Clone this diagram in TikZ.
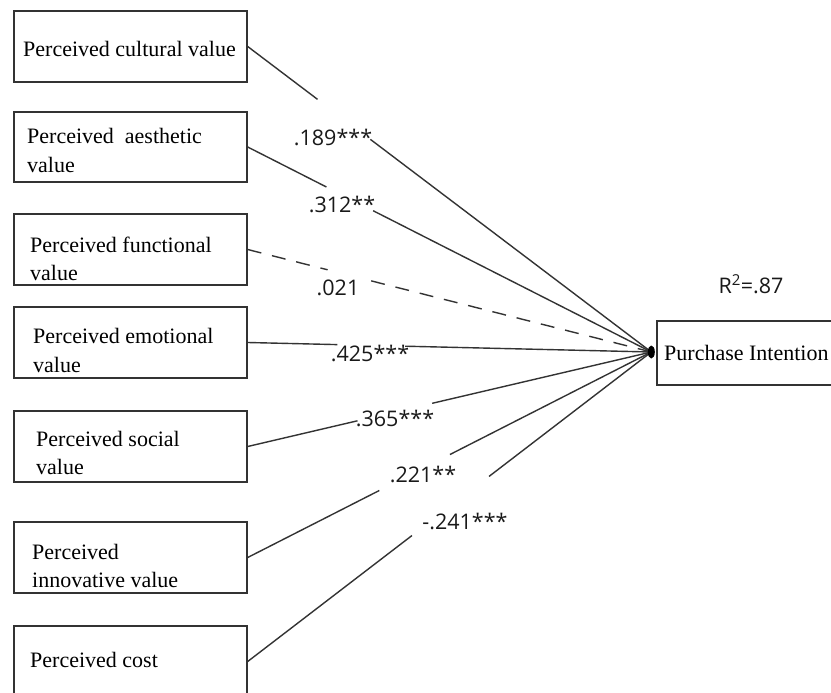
\documentclass[tikz,border=0pt]{standalone}
\usepackage{fontspec}
\setmainfont{Liberation Serif}
\newfontfamily\labfont{Open Sans}
\usetikzlibrary{calc,shapes.geometric}
\begin{document}
\begin{tikzpicture}[x=1pt,y=-1pt,
  box/.style={draw=black!80, line width=1.4pt, rectangle, inner sep=0pt},
  boxtext/.style={anchor=base west, inner sep=0pt, font=\fontsize{22}{26}\selectfont, text=black},
  conn/.style={draw=black!80, line width=1.4pt},
  dashconn/.style={conn, dash pattern=on 14pt off 11pt},
  coef/.style={inner sep=0pt, font=\labfont\fontsize{21.5}{25}\selectfont, text=black!90},
  hubdot/.style={fill=black, ellipse, minimum width=7pt, minimum height=13pt, inner sep=0pt}]
\useasboundingbox (0,0) rectangle (831,693);
\fill[white] (0,0) rectangle (831,693);

% boxes
\node[box, minimum width=233pt, minimum height=71pt] (b1) at (130.5,46.5) {};
\node[box, minimum width=233pt, minimum height=70pt] (b2) at (130.5,147) {};
\node[box, minimum width=233pt, minimum height=71pt] (b3) at (130.5,249.5) {};
\node[box, minimum width=233pt, minimum height=71pt] (b4) at (130.5,342.5) {};
\node[box, minimum width=233pt, minimum height=71pt] (b5) at (130.5,446.5) {};
\node[box, minimum width=233pt, minimum height=71pt] (b6) at (130.5,557.5) {};
\node[box, minimum width=233pt, minimum height=71pt] (b7) at (130.5,661.5) {};
\node[box, minimum width=188pt, minimum height=64pt] (pi) at (751,353) {};

% box texts
\node[boxtext] (t1) at (23,57) {Perceived cultural value};
\node[boxtext] (t2a) at (27,143) {Perceived\ \ aesthetic};
\node[boxtext] (t2b) at (27,172) {value};
\node[boxtext] (t3a) at (30,252) {Perceived functional};
\node[boxtext] (t3b) at (30,280) {value};
\node[boxtext] (t4a) at (33,343) {Perceived emotional};
\node[boxtext] (t4b) at (33,372) {value};
\node[boxtext] (t5a) at (36,446) {Perceived social};
\node[boxtext] (t5b) at (36,474) {value};
\node[boxtext] (t6a) at (32,559) {Perceived};
\node[boxtext] (t6b) at (32,587) {innovative value};
\node[boxtext] (t7) at (30,667) {Perceived cost};
\node[boxtext] (tpi) at (664,360) {Purchase Intention};

% hub
\coordinate (hub) at ($(pi.west)+(-5,-1)$);

% gap coordinates
\coordinate (g1a) at ($(b1.east)!0.173!(hub)$);
\coordinate (g1b) at ($(b1.east)!0.304!(hub)$);
\coordinate (g2a) at ($(b2.east)!0.195!(hub)$);
\coordinate (g2b) at ($(b2.east)!0.311!(hub)$);
\coordinate (g3a) at ($(b3.east)!0.198!(hub)$);
\coordinate (g3b) at ($(b3.east)!0.306!(hub)$);
\coordinate (g4a) at ($(b4.east)!0.222!(hub)$);
\coordinate (g4b) at ($(b4.east)!0.390!(hub)$);
\coordinate (g5a) at ($(b5.east)!0.272!(hub)$);
\coordinate (g5b) at ($(b5.east)!0.457!(hub)$);
\coordinate (g6a) at ($(b6.east)!0.326!(hub)$);
\coordinate (g6b) at ($(b6.east)!0.501!(hub)$);
\coordinate (g7a) at ($(b7.east)!0.407!(hub)$);
\coordinate (g7b) at ($(b7.east)!0.598!(hub)$);

% connectors
\draw[conn] (b1.east) -- (g1a);
\draw[conn] (g1b) -- (hub);
\draw[conn] (b2.east) -- (g2a);
\draw[conn] (g2b) -- (hub);
\draw[dashconn] (b3.east) -- (g3a);
\draw[dashconn] (g3b) -- (hub);
\draw[conn] (b4.east) -- (g4a);
\draw[conn] (g4b) -- (hub);
\draw[conn] (b5.east) -- (g5a);
\draw[conn] (g5b) -- (hub);
\draw[conn] (b6.east) -- (g6a);
\draw[conn] (g6b) -- (hub);
\draw[conn] (b7.east) -- (g7a);
\draw[conn] (g7b) -- (hub);

\node[hubdot] (hd) at (hub) {};

% coefficients
\node[coef] (c1) at (333,137) {.189***};
\node[coef] (c2) at (342,204) {.312**};
\node[coef] (c3) at (338,288) {.021};
\node[coef] (c4) at (370,353) {.425***};
\node[coef] (c5) at (395,418) {.365***};
\node[coef] (c6) at (423,474) {.221**};
\node[coef] (c7) at (465,521) {-.241***};
\node[coef] (r2) at (751,284) {R\textsuperscript{2}=.87};
\end{tikzpicture}
\end{document}
